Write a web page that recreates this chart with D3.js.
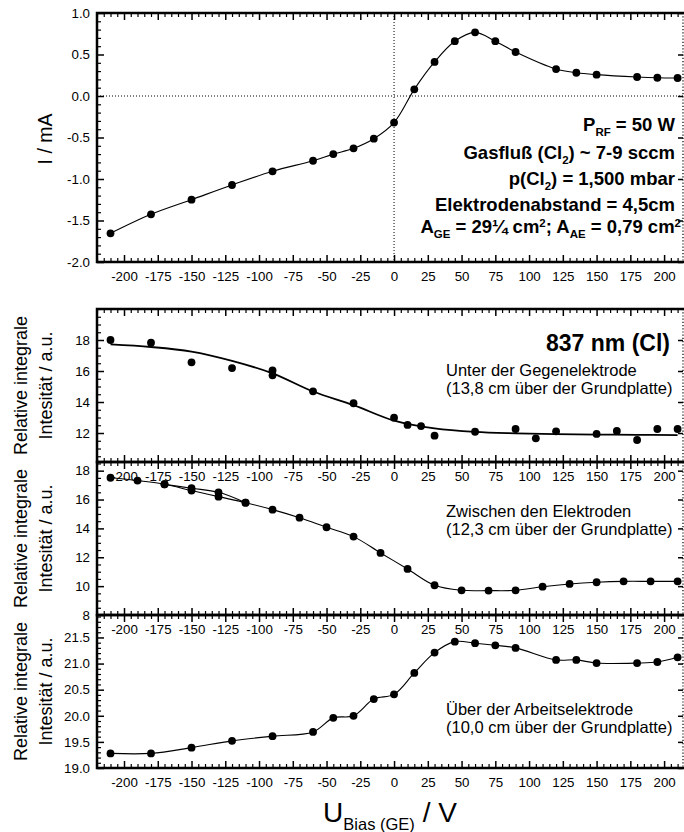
<!DOCTYPE html>
<html><head><meta charset="utf-8">
<script src="https://cdn.jsdelivr.net/npm/d3@7"></script>
<style>
body{margin:0;background:#fff;}
svg text{font-family:"Liberation Sans",Arial,Helvetica,sans-serif;fill:#000;}
</style></head><body>
<svg id="chart" width="684" height="832"></svg>
<script>
// ---------- data ----------
const xMajorTicks = [-200,-175,-150,-125,-100,-75,-50,-25,0,25,50,75,100,125,150,175,200];

// Panel 1: current
const biasI = [-210,-180,-150,-120,-90,-60,-45,-30,-15,0,15,30,45,60,75,90,120,135,150,180,195,210];
const currentI = [-1.654,-1.425,-1.249,-1.072,-0.907,-0.78,-0.70,-0.63,-0.514,-0.32,0.08,0.41,0.66,0.767,0.66,0.53,0.325,0.28,0.257,0.229,0.22,0.217];
const yTicksI = [-2.0,-1.5,-1.0,-0.5,0.0,0.5,1.0];

// Panel 2: 837 nm, unter der Gegenelektrode (points + fit)
const bias837 = [-210,-180,-150,-120,-90,-90,-60,-30,0,10,20,30,60,90,105,120,150,165,180,195,210];
const int837 = [18.0,17.83,16.56,16.19,16.04,15.72,14.69,13.92,12.99,12.52,12.45,11.83,12.08,12.26,11.66,12.11,11.94,12.13,11.55,12.26,12.26];
const fitBias837 = [-210,-180,-150,-120,-90,-60,-30,0,30,60,90,120,150,180,210];
const fitInt837 = [17.72,17.55,17.25,16.65,15.85,14.68,13.8,12.8,12.3,12.07,11.98,11.93,11.9,11.88,11.87];
const yTicks837 = [12,14,16,18];

// Panel 3: zwischen den Elektroden
const biasMid = [-210,-190,-170,-150,-130,-110,-90,-70,-50,-30,-10,10,30,50,70,90,110,130,150,170,190,210];
const intMid = [17.51,17.31,17.06,16.62,16.2,15.78,15.3,14.74,14.08,13.43,12.3,11.19,10.06,9.71,9.69,9.71,9.96,10.15,10.27,10.33,10.33,10.33];
const biasMidRep = [-170,-150,-130,-110];
const intMidRep = [17.06,16.78,16.5,15.78];
const yTicksMid = [8,10,12,14,16,18];

// Panel 4: über der Arbeitselektrode
const biasAE = [-210,-180,-150,-120,-90,-60,-45,-30,-15,0,15,30,45,60,75,90,120,135,150,180,195,210];
const intAE = [19.28,19.28,19.39,19.52,19.61,19.69,19.96,20.0,20.32,20.41,20.82,21.21,21.42,21.39,21.35,21.30,21.07,21.07,21.01,21.01,21.03,21.12];
const yTicksAE = [19.0,19.5,20.0,20.5,21.0,21.5];

// ---------- layout ----------
const svg = d3.select("#chart");
const L = 97, R = 683;
const x = d3.scaleLinear().domain([-220, 214]).range([L, R]);
const xMinor = d3.range(-220, 215, 5).filter(v => v % 25 !== 0);

const panels = [
  {top:13,  bottom:262, y:d3.scaleLinear().domain([-2,1]).range([262,13]), ticks:yTicksI, minorStep:0.1, fmt:d=>d.toFixed(1)},
  {top:309, bottom:462, y:d3.scaleLinear().domain([10.13,20]).range([462,309]), ticks:yTicks837, minorStep:0.5, fmt:d=>String(d)},
  {top:462, bottom:615, y:d3.scaleLinear().domain([8,18.6]).range([615,462]), ticks:yTicksMid, minorStep:0.5, fmt:d=>String(d)},
  {top:615, bottom:768, y:d3.scaleLinear().domain([19,21.93]).range([768,615]), ticks:yTicksAE, minorStep:0.1, fmt:d=>d.toFixed(1)}
];

function styleAxis(g, w){
  g.select(".domain").remove();
  g.attr("font-family", null).attr("font-size", null);
  g.selectAll("line").attr("stroke","#000").attr("stroke-width", w);
  g.selectAll("text").attr("font-size","13.3px").attr("fill","#000");
}

function xAxis(yPos, orient, labels){
  const gen = orient === "bottom" ? d3.axisBottom(x) : d3.axisTop(x);
  const g1 = svg.append("g").attr("transform",`translate(0,${yPos})`)
    .call(gen.tickValues(xMajorTicks).tickSizeInner(-7).tickSizeOuter(0).tickPadding(10)
      .tickFormat(labels ? (d => String(d)) : (() => "")));
  styleAxis(g1, 1.5);
  const gen2 = orient === "bottom" ? d3.axisBottom(x) : d3.axisTop(x);
  const g2 = svg.append("g").attr("transform",`translate(0,${yPos})`)
    .call(gen2.tickValues(xMinor).tickSizeInner(-4).tickSizeOuter(0).tickFormat(() => ""));
  styleAxis(g2, 1.2);
}

panels.forEach((p, i) => {
  const [d0, d1] = p.y.domain();
  const minors = d3.range(Math.ceil(d0 / p.minorStep) * p.minorStep, d1 + 1e-9, p.minorStep)
    .filter(v => !p.ticks.some(t => Math.abs(t - v) < 1e-6));
  const gl = svg.append("g").attr("transform",`translate(${L},0)`)
    .call(d3.axisLeft(p.y).tickValues(p.ticks).tickSizeInner(-7).tickSizeOuter(0).tickPadding(7).tickFormat(p.fmt));
  styleAxis(gl, 1.5);
  const gm = svg.append("g").attr("transform",`translate(${L},0)`)
    .call(d3.axisLeft(p.y).tickValues(minors).tickSizeInner(-4).tickSizeOuter(0).tickFormat(() => ""));
  styleAxis(gm, 1.2);
  const gr = svg.append("g").attr("transform",`translate(${R},0)`)
    .call(d3.axisRight(p.y).tickValues(p.ticks).tickSizeInner(-5).tickSizeOuter(0).tickFormat(() => ""));
  styleAxis(gr, 1.5);
  // frame
  svg.append("line").attr("x1",R).attr("x2",R).attr("y1",p.top).attr("y2",p.bottom)
    .attr("stroke","#000").attr("stroke-width",1.2).attr("stroke-dasharray","1.2,2");
  svg.append("path").attr("d",`M${R},${p.top}H${L}V${p.bottom}H${R}`)
    .attr("fill","none").attr("stroke","#000").attr("stroke-width",2.5).attr("stroke-linecap","square");
  // x ticks
  xAxis(p.top, "top", false);
  xAxis(p.bottom, "bottom", true);
});

// ---------- marks ----------
function series(p, xs, ys, width, curve){
  const pts = xs.map((v,i) => [v, ys[i]]);
  svg.append("path").datum(pts)
    .attr("d", d3.line().x(d => x(d[0])).y(d => p.y(d[1])).curve(curve || d3.curveCatmullRom.alpha(0.5)))
    .attr("fill","none").attr("stroke","#000").attr("stroke-width",width);
}
function dots(p, xs, ys){
  svg.append("g").selectAll("circle").data(xs.map((v,i) => [v, ys[i]])).join("circle")
    .attr("cx", d => x(d[0])).attr("cy", d => p.y(d[1])).attr("r", 3.9).attr("fill","#000");
}

// Panel 1 zero lines
const P1 = panels[0];
svg.append("line").attr("x1",L).attr("x2",R).attr("y1",P1.y(0)).attr("y2",P1.y(0))
  .attr("stroke","#000").attr("stroke-width",1).attr("stroke-dasharray","1,2");
svg.append("line").attr("x1",x(0)).attr("x2",x(0)).attr("y1",P1.top).attr("y2",P1.bottom)
  .attr("stroke","#000").attr("stroke-width",1).attr("stroke-dasharray","1,2");

series(panels[0], biasI, currentI, 1.1);
dots(panels[0], biasI, currentI);

series(panels[1], fitBias837, fitInt837, 1.8);
dots(panels[1], bias837, int837);

series(panels[2], biasMid, intMid, 1.1);
series(panels[2], biasMidRep, intMidRep, 1.1);
dots(panels[2], biasMid, intMid);
dots(panels[2], biasMidRep, intMidRep);

series(panels[3], biasAE, intAE, 1.1);
dots(panels[3], biasAE, intAE);

// ---------- texts ----------
function richText(xp, yp, parts, size, weight, anchor){
  const t = svg.append("text").attr("x",xp).attr("y",yp).attr("text-anchor",anchor||"end")
    .attr("font-size",size+"px").attr("font-weight",weight||"normal");
  let shift = 0;
  parts.forEach(pt => {
    const s = typeof pt === "string" ? {t:pt, d:0} : pt;
    const target = s.d || 0;
    const ts = t.append("tspan").text(s.t).attr("dy", target - shift);
    if (s.d) ts.attr("font-size", (s.fs || size*0.62) + "px");
    shift = target;
  });
  return t;
}

const fsA = 18.5;
richText(675, 131, ["P", {t:"RF", d:5}, " = 50 W"], fsA, "bold");
richText(675, 159, ["Gasfluß (Cl", {t:"2", d:5}, ") ~ 7-9 sccm"], fsA, "bold");
richText(675, 185, ["p(Cl", {t:"2", d:5}, ") = 1,500 mbar"], fsA, "bold");
richText(675, 211, ["Elektrodenabstand = 4,5cm"], fsA, "bold");
richText(681, 233, ["A", {t:"GE", d:5}, " = 29¼ cm", {t:"2", d:-6}, "; A", {t:"AE", d:5}, " = 0,79 cm", {t:"2", d:-6}], fsA, "bold");

svg.append("text").attr("x",670).attr("y",351).attr("text-anchor","end")
  .attr("font-size","23px").attr("font-weight","bold").text("837 nm (Cl)");

const noteSize = "16.5px";
[["Unter der Gegenelektrode","(13,8 cm über der Grundplatte)",376],
 ["Zwischen den Elektroden","(12,3 cm über der Grundplatte)",517],
 ["Über der Arbeitselektrode","(10,0 cm über der Grundplatte)",715]].forEach(([a,b,yy]) => {
  svg.append("text").attr("x",446).attr("y",yy).attr("font-size",noteSize).text(a);
  svg.append("text").attr("x",446).attr("y",yy+17.5).attr("font-size",noteSize).text(b);
});

// y axis titles
svg.append("text").attr("transform","translate(52,139) rotate(-90)").attr("text-anchor","middle")
  .attr("font-size","19.5px").text("I / mA");
panels.slice(1).forEach(p => {
  const cy = (p.top + p.bottom) / 2;
  svg.append("text").attr("transform",`translate(27,${cy}) rotate(-90)`).attr("text-anchor","middle")
    .attr("font-size","18px").text("Relative integrale");
  svg.append("text").attr("transform",`translate(52,${cy}) rotate(-90)`).attr("text-anchor","middle")
    .attr("font-size","18px").text("Intesität / a.u.");
});

// x axis title
const xt = svg.append("text").attr("x",(L+R)/2).attr("y",822).attr("text-anchor","middle").attr("font-size","28px");
xt.append("tspan").text("U");
xt.append("tspan").text("Bias (GE)").attr("font-size","16.5px").attr("dy",8);
xt.append("tspan").text(" / V").attr("dy",-8);
</script>
</body></html>
